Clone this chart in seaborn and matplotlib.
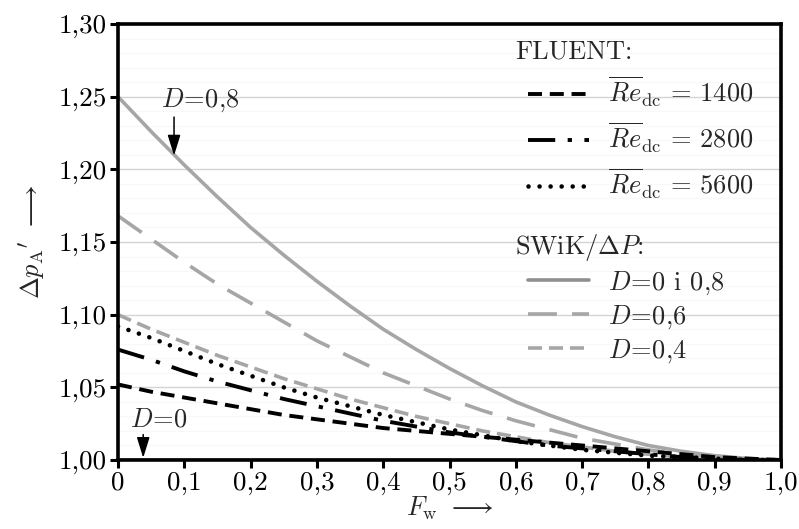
import matplotlib
matplotlib.use('Agg')
import matplotlib.pyplot as plt
import seaborn as sns
import pandas as pd

# F_w values
fw = [0.0, 0.05, 0.1, 0.15, 0.2, 0.25, 0.3, 0.35, 0.4, 0.45, 0.5,
      0.55, 0.6, 0.65, 0.7, 0.75, 0.8, 0.85, 0.9, 0.95, 1.0]

# FLUENT curves
re1400 = [1.052, 1.047, 1.043, 1.039, 1.035, 1.031, 1.028, 1.025, 1.022, 1.020, 1.018,
          1.016, 1.014, 1.012, 1.010, 1.008, 1.006, 1.004, 1.002, 1.001, 1.000]
re2800 = [1.076, 1.069, 1.061, 1.054, 1.048, 1.042, 1.037, 1.032, 1.027, 1.023, 1.019,
          1.016, 1.013, 1.010, 1.008, 1.006, 1.004, 1.002, 1.001, 1.000, 1.000]
re5600 = [1.092, 1.084, 1.075, 1.066, 1.058, 1.050, 1.043, 1.037, 1.031, 1.026, 1.021,
          1.017, 1.013, 1.010, 1.007, 1.005, 1.003, 1.002, 1.001, 1.000, 1.000]

# SWiK/dP curves
d08 = [1.250, 1.226, 1.203, 1.181, 1.160, 1.141, 1.123, 1.106, 1.090, 1.076, 1.063,
       1.051, 1.040, 1.031, 1.023, 1.016, 1.010, 1.006, 1.003, 1.001, 1.000]
d06 = [1.168, 1.152, 1.136, 1.121, 1.108, 1.095, 1.082, 1.071, 1.060, 1.051, 1.042,
       1.034, 1.027, 1.021, 1.015, 1.011, 1.007, 1.004, 1.002, 1.000, 1.000]
d04 = [1.100, 1.090, 1.081, 1.072, 1.064, 1.056, 1.049, 1.042, 1.036, 1.030, 1.025,
       1.020, 1.016, 1.012, 1.009, 1.006, 1.004, 1.002, 1.001, 1.000, 1.000]
d0 = [1.0] * len(fw)

xticks = [0.0, 0.1, 0.2, 0.3, 0.4, 0.5, 0.6, 0.7, 0.8, 0.9, 1.0]
xlabels = ['0', '0,1', '0,2', '0,3', '0,4', '0,5', '0,6', '0,7', '0,8', '0,9', '1,0']
yticks = [1.00, 1.05, 1.10, 1.15, 1.20, 1.25, 1.30]
ylabels = ['1,00', '1,05', '1,10', '1,15', '1,20', '1,25', '1,30']

df = pd.DataFrame({'fw': fw, 're1400': re1400, 're2800': re2800, 're5600': re5600,
                   'd08': d08, 'd06': d06, 'd04': d04, 'd0': d0})

sns.set_theme(style='white')
plt.rcParams['font.family'] = ['cmr10']
plt.rcParams['mathtext.fontset'] = 'cm'
plt.rcParams['axes.formatter.use_mathtext'] = True

gray = '#a6a6a6'
fig = plt.figure(figsize=(7.99, 5.29), dpi=100)
ax = fig.add_axes([0.1477, 0.1304, 0.8298, 0.8242])

ax.yaxis.set_minor_locator(matplotlib.ticker.MultipleLocator(0.01))
ax.grid(True, which='minor', axis='y', color='#f8f8f8', lw=0.8, zorder=0)
ax.grid(True, which='major', axis='y', color='#d4d4d4', lw=1.0, zorder=0)
ax.set_axisbelow(True)

sns.lineplot(data=df, x='fw', y='d0', ax=ax, color=gray, lw=2.6, label='_nolegend_')
sns.lineplot(data=df, x='fw', y='d08', ax=ax, color=gray, lw=2.6, label=r'$D\!=\!0$ i 0,8')
sns.lineplot(data=df, x='fw', y='d06', ax=ax, color=gray, lw=2.6,
             linestyle=(0, (8, 4.2)), label=r'$D\!=\!0{,}6$')
sns.lineplot(data=df, x='fw', y='d04', ax=ax, color=gray, lw=2.6,
             linestyle=(0, (3.9, 1.9)), label=r'$D\!=\!0{,}4$')
sns.lineplot(data=df, x='fw', y='re1400', ax=ax, color='black', lw=2.8,
             linestyle=(0, (3.6, 2)), label=r'$\overline{Re}_{\mathrm{dc}}$ = 1400')
sns.lineplot(data=df, x='fw', y='re2800', ax=ax, color='black', lw=2.8,
             linestyle=(0, (7, 3.2, 1.1, 3.2)), label=r'$\overline{Re}_{\mathrm{dc}}$ = 2800')
sns.lineplot(data=df, x='fw', y='re5600', ax=ax, color='black', lw=3.3,
             linestyle=(0, (0.01, 2.4)), dash_capstyle='round',
             label=r'$\overline{Re}_{\mathrm{dc}}$ = 5600')

ax.set_xlim(0, 1.0)
ax.set_ylim(1.0, 1.30)
ax.set_xticks(xticks)
ax.set_xticklabels(xlabels)
ax.set_yticks(yticks)
ax.set_yticklabels(ylabels)
ax.tick_params(axis='both', which='major', direction='out', length=6, width=2.2,
               labelsize=19.5, pad=2, left=True, bottom=True, colors='black')
ax.tick_params(axis='both', which='minor', length=0)
for s in ax.spines.values():
    s.set_color('black')
    s.set_linewidth(2.6)
    s.set_zorder(5)

ax.set_xlabel(r'$F_{\mathrm{w}}$ $\longrightarrow$', fontsize=19, labelpad=0)
ax.set_ylabel(r"$\Delta p_{\mathrm{A}}{}^{\prime}$ $\longrightarrow$", fontsize=19, labelpad=8)

# annotations
arrow = dict(arrowstyle='-|>,head_length=0.9,head_width=0.28', color='black', lw=1.1,
             mutation_scale=14, shrinkA=0, shrinkB=0)
ax.text(0.124, 1.2475, r'$D\!=\!0{,}8$', ha='center', va='center', fontsize=19)
ax.annotate('', xy=(0.0845, 1.2095), xytext=(0.0845, 1.236), arrowprops=arrow)
ax.text(0.062, 1.0275, r'$D\!=\!0$', ha='center', va='center', fontsize=19)
ax.annotate('', xy=(0.038, 1.0015), xytext=(0.038, 1.0175), arrowprops=arrow)

handles, labels = ax.get_legend_handles_labels()
hmap = dict(zip(labels, handles))
fl_labels = [r'$\overline{Re}_{\mathrm{dc}}$ = 1400', r'$\overline{Re}_{\mathrm{dc}}$ = 2800',
             r'$\overline{Re}_{\mathrm{dc}}$ = 5600']
sw_labels = [r'$D\!=\!0$ i 0,8', r'$D\!=\!0{,}6$', r'$D\!=\!0{,}4$']

leg1 = ax.legend([hmap[l] for l in fl_labels], fl_labels, title='FLUENT:',
                 loc='upper left', bbox_to_anchor=(0.595, 1.0), frameon=False,
                 fontsize=19, title_fontsize=19, alignment='left',
                 handlelength=2.3, handletextpad=0.7, labelspacing=0.45,
                 borderaxespad=0.2)
leg1.get_title().set_position((-13, 0))
ax.add_artist(leg1)
leg2 = ax.legend([hmap[l] for l in sw_labels], sw_labels, title=r'SWiK/$\Delta P$:',
                 loc='upper left', bbox_to_anchor=(0.595, 0.56), frameon=False,
                 fontsize=19, title_fontsize=19, alignment='left',
                 handlelength=2.3, handletextpad=0.7, labelspacing=0.25,
                 borderaxespad=0.2)
leg2.get_title().set_position((-13, 0))
leg2.legend_handles[0].set_color('#8f8f8f')

fig.savefig('out.png', dpi=100)
